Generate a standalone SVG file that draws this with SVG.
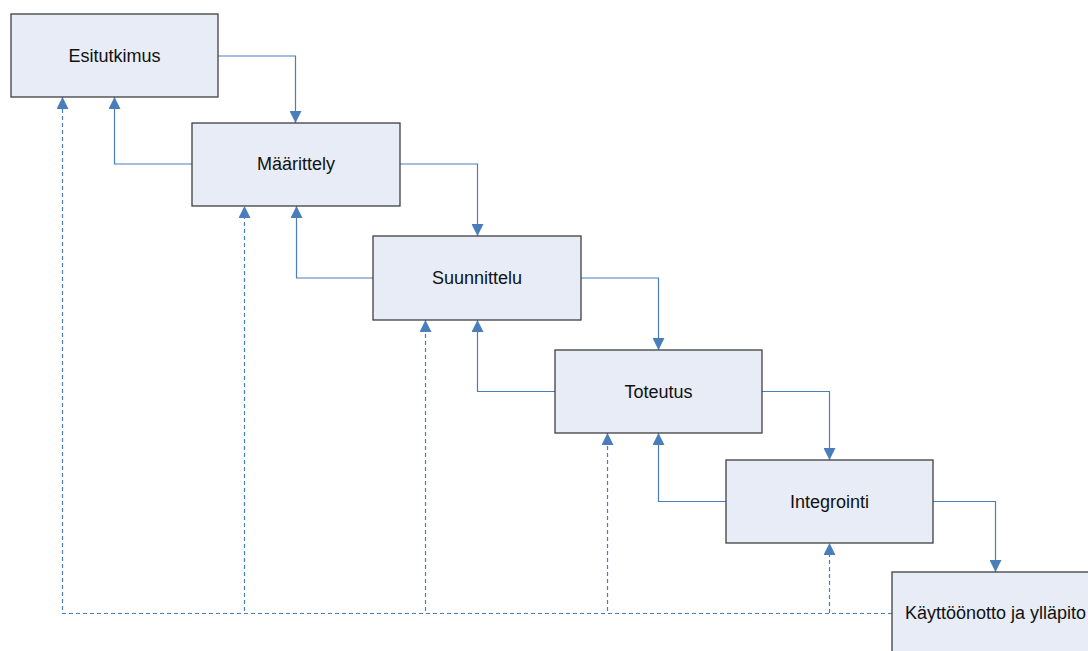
<svg xmlns="http://www.w3.org/2000/svg" width="1088" height="651" viewBox="0 0 1088 651">
<style>
.box{fill:#e7ecf6;stroke:#3f3f3f;stroke-width:1.3}
.lbl{font-family:"Liberation Sans",Arial,sans-serif;font-size:18px;fill:#111;text-anchor:middle;dominant-baseline:central}
.c{fill:none;stroke:#4a7ebb;stroke-width:1.2}
.d{fill:none;stroke:#4a7ebb;stroke-width:1.2;stroke-dasharray:4 3}
</style>
<defs>
<marker id="ah" viewBox="0 0 12 12" refX="12" refY="6" markerWidth="12" markerHeight="12" markerUnits="userSpaceOnUse" orient="auto">
<path d="M0,0 L12,6 L0,12 Z" fill="#4a7ebb"/>
</marker>
</defs>
<rect width="1088" height="651" fill="#fff"/>
<g id="connectors">
<path class="c" d="M218,56 H295.5 V123" marker-end="url(#ah)"/>
<path class="c" d="M192,164 H114.5 V97" marker-end="url(#ah)"/>
<path class="c" d="M400,164 H477.5 V236" marker-end="url(#ah)"/>
<path class="c" d="M373,278 H296.5 V206" marker-end="url(#ah)"/>
<path class="c" d="M581,278 H658.5 V350" marker-end="url(#ah)"/>
<path class="c" d="M555,391.5 H477.5 V320" marker-end="url(#ah)"/>
<path class="c" d="M762,391.5 H829.5 V460" marker-end="url(#ah)"/>
<path class="c" d="M726,501.5 H658.5 V433" marker-end="url(#ah)"/>
<path class="c" d="M933,501.5 H995.5 V572" marker-end="url(#ah)"/>
<path class="d" d="M892,613.5 H62.5 V97" marker-end="url(#ah)"/>
<path class="d" d="M244.5,611 V206" marker-end="url(#ah)"/>
<path class="d" d="M425.5,611 V320" marker-end="url(#ah)"/>
<path class="d" d="M607.5,611 V433" marker-end="url(#ah)"/>
<path class="d" d="M829.5,613 V543" marker-end="url(#ah)"/>
</g>
<g id="esitutkimus"><rect class="box" x="11" y="14" width="207" height="83"/><text class="lbl" x="114.5" y="56">Esitutkimus</text></g>
<g id="maarittely"><rect class="box" x="192" y="123" width="208" height="83"/><text class="lbl" x="296" y="164">Määrittely</text></g>
<g id="suunnittelu"><rect class="box" x="373" y="236" width="208" height="84"/><text class="lbl" x="477" y="278">Suunnittelu</text></g>
<g id="toteutus"><rect class="box" x="555" y="350" width="207" height="83"/><text class="lbl" x="658.5" y="391.5">Toteutus</text></g>
<g id="integrointi"><rect class="box" x="726" y="460" width="207" height="83"/><text class="lbl" x="829.5" y="501.5">Integrointi</text></g>
<g id="kayttoonotto"><rect class="box" x="892" y="572" width="207" height="83"/><text class="lbl" x="995.5" y="613">Käyttöönotto ja ylläpito</text></g>
</svg>
